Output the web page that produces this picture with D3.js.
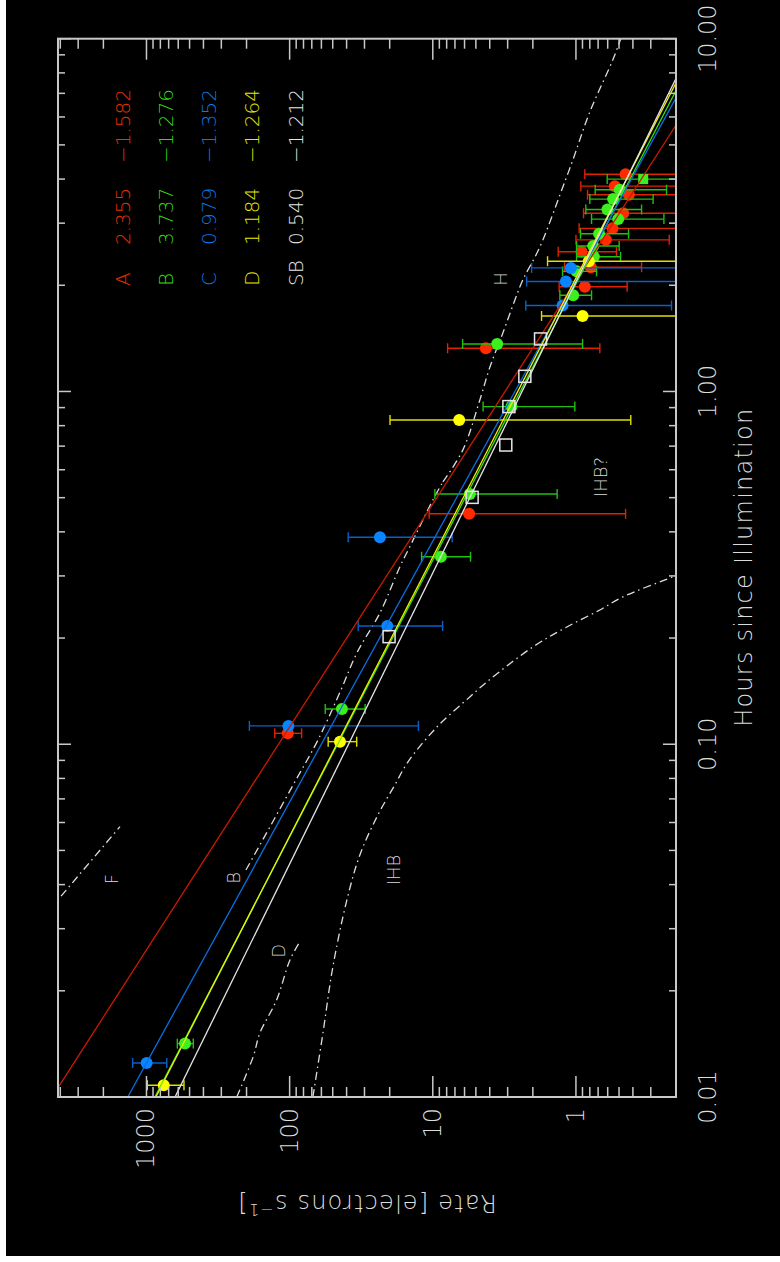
<!DOCTYPE html>
<html>
<head>
<meta charset="utf-8">
<script src="https://cdn.jsdelivr.net/npm/d3@7"></script>
<style>
  body { margin: 0; background: #fff; }
  svg { display: block; }
  text { font-family: "DejaVu Sans", sans-serif; font-weight: 200; fill: #dcdcdc; }
</style>
</head>
<body>
<svg id="chart" width="780" height="1262"></svg>
<script>
// ---- axes ----
const hourDomain = [0.01, 10];
const rateDomain = [0.2, 4150];
const hourTickLabels = [["0.01", 0.01], ["0.10", 0.1], ["1.00", 1], ["10.00", 10]];
const rateTickLabels = [["1", 1], ["10", 10], ["100", 100], ["1000", 1000]];

// ---- fits: legend values, plus the rate where each line crosses 1 hour ----
const fitNames = ["A", "B", "C", "D", "SB"];
const fitAmps = ["2.355", "3.737", "0.979", "1.184", "0.540"];
const fitSlopes = [-1.582, -1.276, -1.352, -1.264, -1.212];
const fitRateAt1h = [3.13, 2.45, 2.67, 2.55, 2.38];

// ---- measured points: [hours, rate, rate low, rate high] ----
const seriesA = [
  [4.13, 0.450, 0.1, 0.867], [3.82, 0.535, 0.1, 0.924], [3.61, 0.427, 0.1, 0.830],
  [3.20, 0.468, 0.1, 0.885], [2.90, 0.555, 0.1, 0.950], [2.69, 0.618, 0.223, 1.00],
  [2.49, 0.914, 0.521, 1.33], [2.25, 0.787, 0.348, 1.20], [1.98, 0.867, 0.439, 1.31],
  [1.326, 4.26, 0.681, 7.88], [0.450, 5.57, 0.450, 10.6], [0.1074, 103, 82.5, 127]
];
const seriesB = [
  [3.73, 0.494, 0.233, 0.734], [3.51, 0.550, 0.289, 0.800], [3.28, 0.602, 0.348, 0.853],
  [3.08, 0.507, 0.243, 0.778], [2.80, 0.689, 0.429, 0.929], [2.585, 0.758, 0.499, 0.990],
  [2.41, 0.750, 0.488, 0.990], [2.19, 0.990, 0.718, 1.240], [1.874, 1.046, 0.778, 1.295],
  [1.363, 3.55, 0.899, 6.19], [0.906, 2.82, 1.018, 4.45], [0.512, 5.51, 1.353, 9.67],
  [0.340, 8.78, 5.45, 11.97], [0.1259, 43.1, 29.7, 56.4], [0.01417, 538, 471, 609]
];
const seriesBSquare = [[4.00, 0.339, 0.1, 0.605]];
const seriesC = [
  [2.24, 1.085, 0.1, 2.04], [2.05, 1.176, 0.1, 2.21], [1.753, 1.240, 0.215, 2.24],
  [0.386, 23.4, 7.32, 39.0], [0.2164, 20.8, 8.54, 33.2], [0.1127, 102, 12.6, 191],
  [0.01249, 997, 722, 1249]
];
const seriesD = [
  [2.34, 0.813, 0.1, 1.579], [1.637, 0.899, 0.1, 1.739], [0.830, 6.54, 0.414, 19.9],
  [0.1017, 44.5, 34.0, 53.8], [0.0108, 758, 547, 987]
];
const seriesSB = [
  [1.409, 1.767], [1.104, 2.275], [0.906, 2.94], [0.705, 3.09], [0.501, 5.31], [0.2018, 20.2]
];

// ---- model curves (dash-dot): [hours, rate] ----
const curveF = [[0.034, 4740], [0.0584, 1531]];
const curveB = [[0.0440, 202], [0.0583, 137.3], [0.0792, 90.4], [0.1028, 63.4], [0.1425, 43.8],
  [0.1815, 33.9], [0.2356, 23.4], [0.318, 17.0], [0.3624, 14.5], [0.4926, 9.98], [0.554, 8.50]];
const curveH = [[0.554, 8.50], [0.683, 6.16], [0.946, 4.69], [1.173, 3.99], [1.465, 3.24],
  [1.817, 2.67], [2.07, 2.35], [2.568, 1.787], [3.80, 1.234], [4.53, 1.051], [6.20, 0.800],
  [8.70, 0.553], [10, 0.486]];
const curveD = [[0.0100, 234], [0.01302, 179.6], [0.01520, 161.2], [0.01884, 123.3],
  [0.02446, 99.5], [0.02757, 84.8]];
const curveIHB = [[0.0100, 68.8], [0.01520, 58.5], [0.02337, 49.9], [0.0362, 39.8], [0.04855, 32.3],
  [0.0630, 24.2], [0.0767, 18.4], [0.0891, 14.9], [0.1119, 9.36], [0.1362, 5.51], [0.1502, 4.19],
  [0.1887, 2.00], [0.2150, 1.157], [0.2402, 0.681], [0.2616, 0.470], [0.2979, 0.2105], [0.3099, 0.160]];
const curveNotes = [
  ["F", 0.0415, 1742], ["B", 0.0418, 247], ["D", 0.02595, 119.7],
  ["IHB", 0.0440, 18.7], ["H", 2.084, 3.37], ["IHB?", 0.5723, 0.675]
];

// colours
const fitColors = ["#c81a00", "#33e01a", "#0a6ee0", "#f0f000", "#e6e6e6"];
const markColors = ["#ff2a00", "#3cf01e", "#0a84ff", "#ffff00"];
const barColors = ["#e02200", "#22c010", "#0a60c8", "#e0e000"];
const legendColors = ["#e83000", "#33dd11", "#0a7ae8", "#e6e600", "#e6e6e6"];

const svg = d3.select("#chart");
svg.append("rect").attr("x", 6).attr("y", 0).attr("width", 774).attr("height", 1256).attr("fill", "#000");

// the plot is drawn in its natural landscape form, then turned a quarter turn anticlockwise
const frame = {left: 58, top: 38.7, right: 676, bottom: 1097};
const W = frame.bottom - frame.top;   // hours axis length
const H = frame.right - frame.left;   // rate axis length

const g = svg.append("g")
  .attr("transform", `translate(${frame.left},${frame.bottom}) rotate(-90)`);

const x = d3.scaleLog().domain(hourDomain).range([0, W]);
const y = d3.scaleLog().domain(rateDomain).range([H, 0]);

g.append("clipPath").attr("id", "plotclip")
  .append("rect").attr("width", W).attr("height", H);

const plot = g.append("g").attr("clip-path", "url(#plotclip)");

// model curves
const curveLine = d3.line().x(d => x(d[0])).y(d => y(d[1])).curve(d3.curveCatmullRom);
[curveF, curveB, curveH, curveD, curveIHB].forEach(c => {
  plot.append("path")
    .attr("d", curveLine(c))
    .attr("fill", "none")
    .attr("stroke", "#dedede")
    .attr("stroke-width", 1.3)
    .attr("stroke-dasharray", "8,4,1.5,4");
});

// error bars then markers, one series at a time
function drawSeries(data, i, square) {
  const s = plot.append("g");
  const bars = s.selectAll("g.bar").data(data).join("g")
    .attr("stroke", barColors[i]).attr("stroke-width", 1.4);
  bars.append("line")
    .attr("x1", d => x(d[0])).attr("x2", d => x(d[0]))
    .attr("y1", d => y(d[2])).attr("y2", d => y(d[3]));
  bars.append("line")
    .attr("x1", d => x(d[0]) - 5).attr("x2", d => x(d[0]) + 5)
    .attr("y1", d => y(d[2])).attr("y2", d => y(d[2]));
  bars.append("line")
    .attr("x1", d => x(d[0]) - 5).attr("x2", d => x(d[0]) + 5)
    .attr("y1", d => y(d[3])).attr("y2", d => y(d[3]));
  if (square) {
    s.selectAll("rect").data(data).join("rect")
      .attr("x", d => x(d[0]) - 5).attr("y", d => y(d[1]) - 5)
      .attr("width", 10).attr("height", 10)
      .attr("fill", markColors[i]);
  } else {
    s.selectAll("circle").data(data).join("circle")
      .attr("cx", d => x(d[0])).attr("cy", d => y(d[1]))
      .attr("r", 6).attr("fill", markColors[i]);
  }
}
drawSeries(seriesA, 0);
drawSeries(seriesB, 1);
drawSeries(seriesBSquare, 1, true);
drawSeries(seriesC, 2);
drawSeries(seriesD, 3);

// fitted power laws
fitNames.forEach((name, i) => {
  const ends = hourDomain.map(h => [h, fitRateAt1h[i] * Math.pow(h, fitSlopes[i])]);
  plot.append("line")
    .attr("x1", x(ends[0][0])).attr("y1", y(ends[0][1]))
    .attr("x2", x(ends[1][0])).attr("y2", y(ends[1][1]))
    .attr("stroke", fitColors[i])
    .attr("stroke-width", 1.3);
});

// SB open squares
plot.selectAll("rect.sb").data(seriesSB).join("rect")
  .attr("class", "sb")
  .attr("x", d => x(d[0]) - 6).attr("y", d => y(d[1]) - 6)
  .attr("width", 12).attr("height", 12)
  .attr("fill", "none").attr("stroke", "#e6e6e6").attr("stroke-width", 1.5);

// curve labels
g.selectAll("text.note").data(curveNotes).join("text")
  .attr("class", "note")
  .attr("x", d => x(d[1])).attr("y", d => y(d[2]))
  .attr("text-anchor", "middle").attr("dominant-baseline", "central")
  .style("font-size", "18px")
  .text(d => d[0]);

// frame
g.append("rect").attr("width", W).attr("height", H)
  .attr("fill", "none").attr("stroke", "#c8c8c8").attr("stroke-width", 2);

// ticks (inward on all four sides)
const isMajor = v => Math.abs(Math.log10(v) - Math.round(Math.log10(v))) < 1e-6;
const ticks = g.append("g").attr("stroke", "#c8c8c8").attr("stroke-width", 1.5);
x.ticks().forEach(v => {
  const len = isMajor(v) ? 13 : 7;
  ticks.append("line").attr("x1", x(v)).attr("x2", x(v)).attr("y1", H).attr("y2", H - len);
  ticks.append("line").attr("x1", x(v)).attr("x2", x(v)).attr("y1", 0).attr("y2", len);
});
y.ticks().forEach(v => {
  const len = isMajor(v) ? 21 : 10;
  ticks.append("line").attr("y1", y(v)).attr("y2", y(v)).attr("x1", 0).attr("x2", len);
  ticks.append("line").attr("y1", y(v)).attr("y2", y(v)).attr("x1", W).attr("x2", W - len);
});

// tick labels
g.selectAll("text.hl").data(hourTickLabels).join("text")
  .attr("class", "hl")
  .attr("x", d => x(d[1])).attr("y", H + 40)
  .attr("text-anchor", "middle")
  .style("font-size", "24px")
  .text(d => d[0]);
g.selectAll("text.rl").data(rateTickLabels).join("text")
  .attr("class", "rl")
  .attr("x", -11).attr("y", d => y(d[1]))
  .attr("text-anchor", "end").attr("dominant-baseline", "central")
  .style("font-size", "24px")
  .text(d => d[0]);

// axis titles
g.append("text")
  .attr("x", W / 2).attr("y", H + 76)
  .attr("text-anchor", "middle")
  .style("font-size", "24px")
  .attr("textLength", 318)
  .text("Hours since Illumination");

const rt = g.append("text")
  .attr("transform", `translate(-98,${H / 2}) rotate(-90)`)
  .attr("text-anchor", "middle")
  .style("font-size", "24px")
  .style("letter-spacing", "1.2px");
rt.append("tspan").text("Rate [electrons s");
rt.append("tspan").attr("dy", -9).style("font-size", "16px").text("\u22121");
rt.append("tspan").attr("dy", 9).text("]");

// legend
const legend = g.append("g");
fitNames.forEach((name, i) => {
  const row = legend.append("g")
    .attr("transform", `translate(0,${64.5 + 43.3 * i})`)
    .style("font-size", "20px");
  const cells = [[811, name], [852, fitAmps[i]], [934, "\u2212" + Math.abs(fitSlopes[i]).toFixed(3)]];
  cells.forEach(c => {
    row.append("text")
      .attr("x", c[0]).attr("y", 0)
      .attr("dominant-baseline", "central")
      .style("fill", legendColors[i])
      .text(c[1]);
  });
});
</script>
</body>
</html>
